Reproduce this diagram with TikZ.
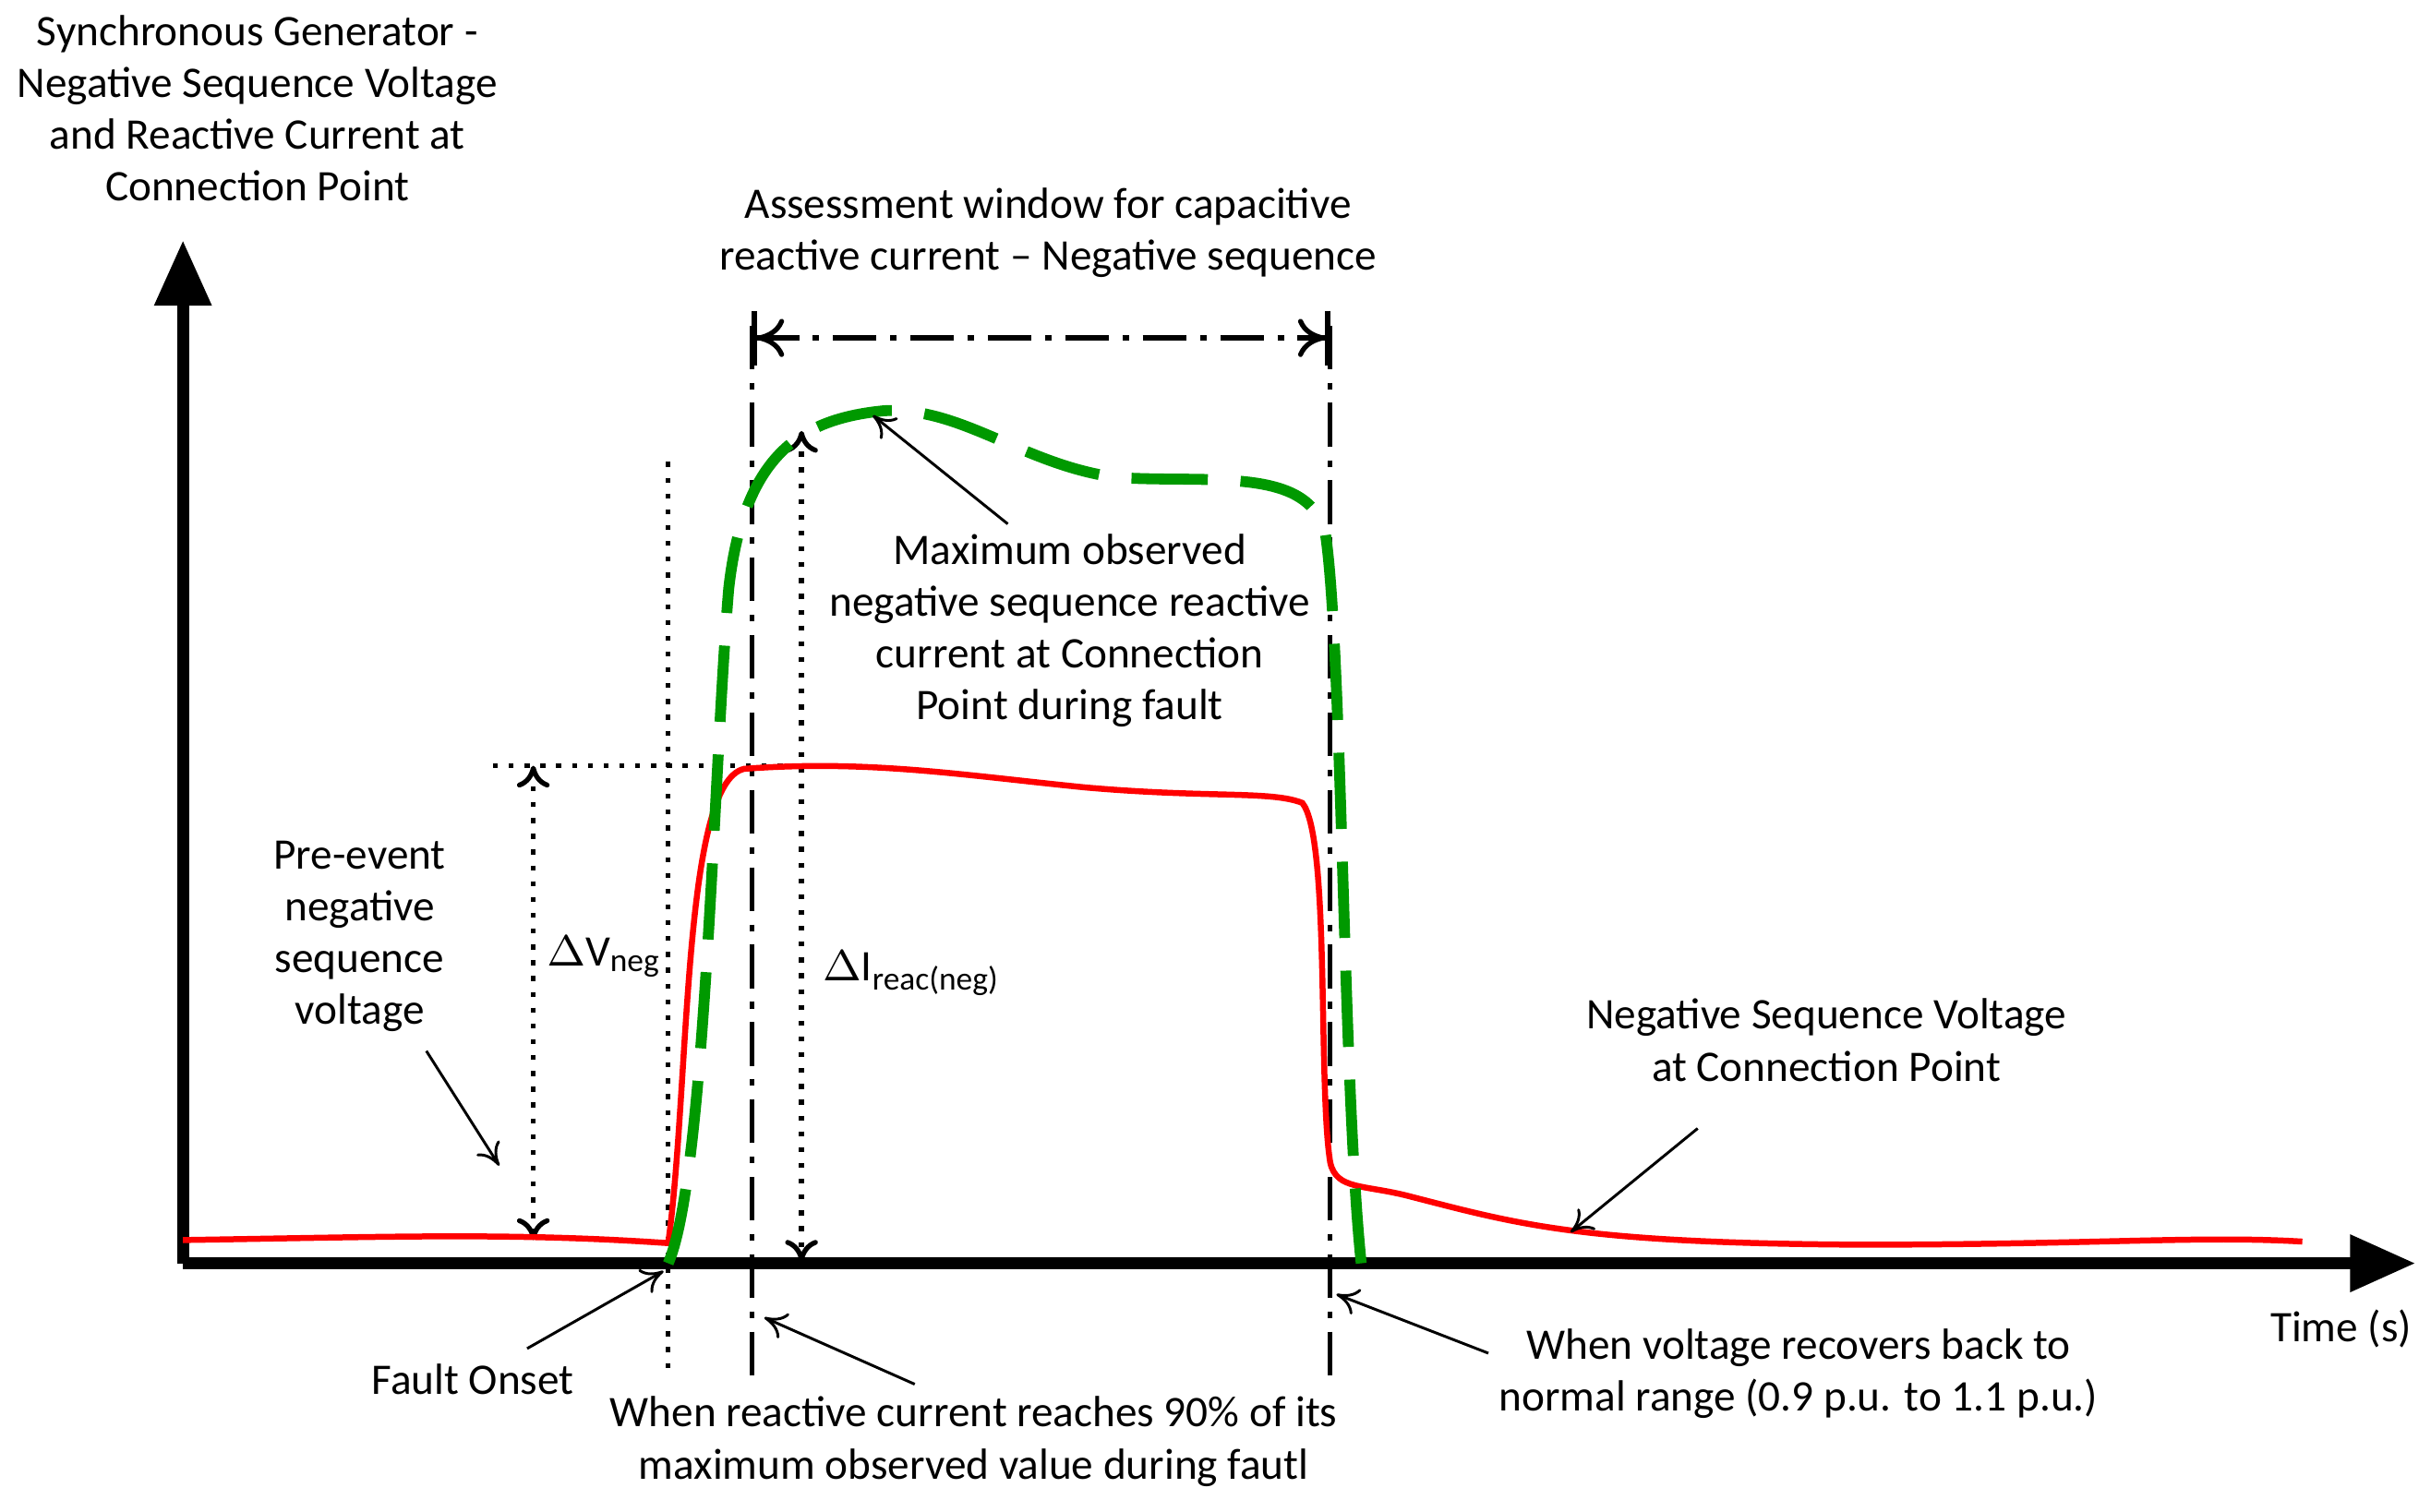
\documentclass[tikz,border=0pt]{standalone}
\usepackage{fontspec}
\setmainfont{Carlito}
\usetikzlibrary{arrows.meta}
\begin{document}
\begin{tikzpicture}[x=0.01cm,y=-0.01cm,
  lbl/.style={align=center,font=\fontsize{8}{9.5}\selectfont,inner sep=0},
  thin arr/.style={-{To[length=4pt,width=5pt]},line width=0.5pt},
  dd/.style={dash pattern=on 8pt off 2.5pt on 1.2pt off 2.5pt,line width=0.9pt},
  dt/.style={dotted,line width=0.9pt}]
\useasboundingbox (0,0) rectangle (1568,975);
% axes
\coordinate (o) at (118,815); \coordinate (ytop) at (118,155); \coordinate (xend) at (1558,815);
\draw[line width=2.2pt,-{Triangle[length=12pt,width=10pt]}] (o) -- (ytop);
\draw[line width=2.2pt,-{Triangle[length=12pt,width=10pt]}] (o) -- (xend);
\node[lbl] (title) at (166,70) {Synchronous Generator -\\Negative Sequence Voltage\\and Reactive Current at\\Connection Point};
\node[lbl] (time) at (1510,857) {Time (s)};
% window
\coordinate (w1t) at (485,210); \coordinate (w1b) at (485,888);
\coordinate (w2t) at (858,210); \coordinate (w2b) at (858,888);
\draw[dd] (w1t) -- (w1b); \draw[dd] (w2t) -- (w2b);
\coordinate (a1) at (485,218); \coordinate (a2) at (858,218);
\draw[dd,{Bar[width=10pt]To[length=5pt,width=7pt]}-{To[length=5pt,width=7pt]Bar[width=10pt]}] (a1) -- (a2);
\node[lbl] (assess) at (676,150) {Assessment window for capacitive\\reactive current -- Negative sequence};
% fault onset dotted
\coordinate (f1) at (431,298); \coordinate (f2) at (431,888);
\draw[dt] (f1) -- (f2);
\coordinate (h1) at (318,494); \coordinate (h2) at (515,494);
\draw[dt] (h1) -- (h2);
\coordinate (v1) at (344,494); \coordinate (v2) at (344,800);
\draw[dt,{To[length=4pt,width=6pt]}-{To[length=4pt,width=6pt]}] (v1) -- (v2);
\node[lbl,anchor=west] (dv) at (352,617) {$\Delta$V\textsubscript{neg}};
\coordinate (i1) at (517,278); \coordinate (i2) at (517,814);
\draw[dt,{To[length=4pt,width=6pt]}-{To[length=4pt,width=6pt]}] (i1) -- (i2);
\node[lbl,anchor=west] (di) at (530,628) {$\Delta$I\textsubscript{reac(neg)}};
% red curve
\draw[red,line width=1.1pt] (118,800) .. controls (250,798) and (330,795) .. (431,802)
  .. controls (445,700) and (440,505) .. (480,496)
  .. controls (560,490) and (620,500) .. (700,508)
  .. controls (780,515) and (820,510) .. (840,518)
  .. controls (858,540) and (850,700) .. (858,750)
  .. controls (862,768) and (880,764) .. (910,772)
  .. controls (980,790) and (1020,802) .. (1200,803)
  .. controls (1350,803) and (1420,797) .. (1485,801);
% green dashed
\draw[green!60!black,line width=2pt,dash pattern=on 14pt off 6pt] (431,815)
  .. controls (455,760) and (460,500) .. (470,380)
  .. controls (480,290) and (520,270) .. (570,265)
  .. controls (620,262) and (660,300) .. (720,308)
  .. controls (780,312) and (845,300) .. (855,345)
  .. controls (866,420) and (866,700) .. (878,815);
% labels
\node[lbl] (maxobs) at (690,407) {Maximum observed\\negative sequence reactive\\current at Connection\\Point during fault};
\coordinate (mp) at (563,268);
\draw[thin arr] (650,338) -- (mp);
\node[lbl] (pre) at (232,604) {Pre-event\\negative\\sequence\\voltage};
\coordinate (pp) at (322,752);
\draw[thin arr] (275,678) -- (pp);
\node[lbl] (nsv) at (1178,671) {Negative Sequence Voltage\\at Connection Point};
\coordinate (np) at (1013,795);
\draw[thin arr] (1095,728) -- (np);
\node[lbl] (fo) at (305,890) {Fault Onset};
\coordinate (fp) at (428,820);
\draw[thin arr] (340,870) -- (fp);
\node[lbl] (wr) at (628,930) {When reactive current reaches 90\% of its\\maximum observed value during fautl};
\coordinate (wp) at (493,850);
\draw[thin arr] (590,893) -- (wp);
\node[lbl] (wv) at (1160,886) {When voltage recovers back to\\normal range (0.9 p.u. to 1.1 p.u.)};
\coordinate (vp) at (862,835);
\draw[thin arr] (960,873) -- (vp);
\end{tikzpicture}
\end{document}
